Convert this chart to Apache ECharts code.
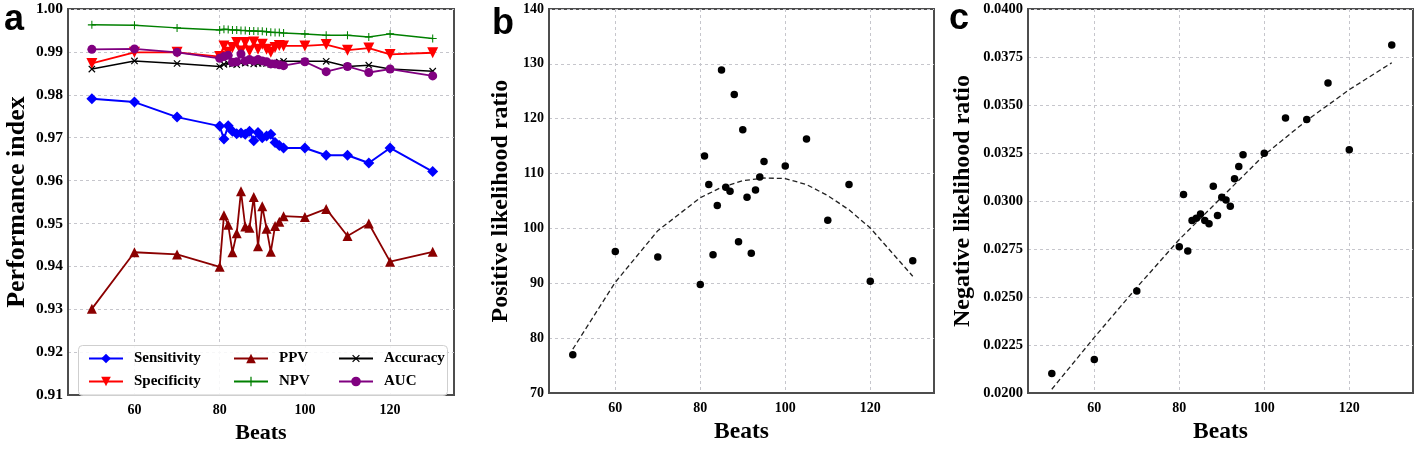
<!DOCTYPE html>
<html><head><meta charset="utf-8">
<script src="https://cdn.jsdelivr.net/npm/echarts@6/dist/echarts.min.js"></script>
<style>html,body{margin:0;padding:0;background:#fff}#c{width:1418px;height:449px}</style>
</head><body><div id="c"></div>
<script>
// ---- data ----
const beats = [50,60,70,80,81,82,83,84,85,86,87,88,89,90,91,92,93,94,95,100,105,110,115,120,130];
const sensitivity = [0.9791,0.9783,0.9748,0.9727,0.9697,0.9728,0.9715,0.9709,0.9711,0.9708,0.9715,0.9693,0.9712,0.9700,0.9704,0.9708,0.9689,0.9682,0.9676,0.9676,0.9659,0.9659,0.9641,0.9676,0.9621];
const specificity = [0.9873,0.9899,0.9899,0.9889,0.9914,0.9899,0.9910,0.9922,0.9902,0.9922,0.9902,0.9923,0.9906,0.9918,0.9906,0.9899,0.9910,0.9915,0.9914,0.9914,0.9917,0.9904,0.9909,0.9894,0.9898];
const ppv = [0.9301,0.9433,0.9428,0.9399,0.9519,0.9497,0.9433,0.9477,0.9575,0.9493,0.9490,0.9562,0.9447,0.9540,0.9488,0.9434,0.9494,0.9504,0.9517,0.9515,0.9534,0.9471,0.9500,0.9411,0.9434];
const npv = [0.9963,0.9962,0.9956,0.9951,0.9953,0.9952,0.9951,0.9951,0.9950,0.9950,0.9949,0.9949,0.9948,0.9948,0.9947,0.9946,0.9945,0.9945,0.9944,0.9942,0.9939,0.9939,0.9935,0.9942,0.9931];
const accuracy = [0.9860,0.9879,0.9873,0.9866,0.9871,0.9873,0.9872,0.9870,0.9875,0.9874,0.9876,0.9872,0.9873,0.9874,0.9873,0.9871,0.9874,0.9876,0.9878,0.9878,0.9878,0.9866,0.9869,0.9860,0.9855];
const auc = [0.9906,0.9907,0.9899,0.9885,0.9889,0.9892,0.9876,0.9877,0.9895,0.9879,0.9882,0.9879,0.9882,0.9879,0.9877,0.9872,0.9872,0.9870,0.9868,0.9877,0.9854,0.9866,0.9852,0.9860,0.9844];
const posLR = [77.0,95.8,94.8,89.8,113.2,108.0,95.2,104.2,128.9,107.5,106.8,124.4,97.6,118.0,105.7,95.5,107.0,109.4,112.2,111.4,116.3,101.5,108.0,90.4,94.1];
const negLR = [0.02102,0.02175,0.02531,0.02762,0.03034,0.02740,0.02899,0.02910,0.02933,0.02899,0.02882,0.03077,0.02925,0.03020,0.03005,0.02973,0.03116,0.03180,0.03241,0.03249,0.03432,0.03425,0.03615,0.03267,0.03813];
const fitBeats = [50,60,70,80,85,90,95,100,105,110,115,120,130];
const posFit = [78.0,90.2,99.6,105.6,107.5,108.7,109.2,109.1,108.0,106.0,103.4,100.1,91.3];
const negFit = [0.0202,0.0229,0.0255,0.0280,0.0291,0.0302,0.0313,0.0324,0.0333,0.0342,0.0350,0.0358,0.0372];
const xTicks = [60,80,100,120];
const panelLetters = ['a','b','c'];
const yNames = ['Performance index','Positive likelihood ratio','Negative likelihood ratio'];
const xName = 'Beats';

// ---- helpers ----
const pairs = (xs, ys) => xs.map((x, i) => [x, ys[i]]);
const SERIF = '"Liberation Serif","Times New Roman",serif';
const frame = '#4d4d4d';
const gridDash = {type: [3, 3], color: '#c6c6cc', width: 1};
const PLUS = 'path://M-1,-0.13L1,-0.13L1,0.13L-1,0.13Z M-0.13,-1L0.13,-1L0.13,1L-0.13,1Z';

const grids = [
  {left: 68, top: 9, width: 386, height: 393},
  {left: 549, top: 9, width: 385, height: 393},
  {left: 1028, top: 9, width: 385, height: 393}
].map(g => Object.assign(g, {show: true, borderColor: frame, borderWidth: 2, containLabel: false}));

function xAxisFor(i, labelSize, nameSize) {
  return {
    type: 'value', gridIndex: i, min: 44.4, max: 135,
    name: xName, nameLocation: 'middle', nameGap: 20,
    nameTextStyle: {fontFamily: SERIF, fontWeight: 'bold', fontSize: nameSize, color: '#000'},
    axisLine: {show: true, lineStyle: {color: frame, width: 2}},
    axisTick: {show: false, customValues: xTicks},
    axisLabel: {customValues: xTicks, fontFamily: SERIF, fontWeight: 'bold', fontSize: labelSize, color: '#000', margin: 8},
    splitLine: {show: true, lineStyle: gridDash}
  };
}
function yAxisFor(i, min, max, interval, dec, labelSize, nameSize, nameGap) {
  return {
    type: 'value', gridIndex: i, min, max, interval,
    name: yNames[i], nameLocation: 'middle', nameGap, nameRotate: 90,
    nameTextStyle: {fontFamily: SERIF, fontWeight: 'bold', fontSize: nameSize, color: '#000'},
    axisLine: {show: true, lineStyle: {color: frame, width: 2}},
    axisTick: {show: false},
    axisLabel: {formatter: v => v.toFixed(dec), fontFamily: SERIF, fontWeight: 'bold', fontSize: labelSize, color: '#000', margin: 5},
    splitLine: {show: true, lineStyle: gridDash}
  };
}

function lineSeries(name, ys, color, symbol, size, extra) {
  return Object.assign({
    name, type: 'line', xAxisIndex: 0, yAxisIndex: 0,
    data: pairs(beats, ys), symbol, symbolSize: size, showSymbol: true,
    lineStyle: {color, width: 1.8}, itemStyle: {color},
    emphasis: {disabled: true}, animation: false
  }, extra || {});
}

const legendText = {fontFamily: SERIF, fontWeight: 'bold', fontSize: 15, color: '#000', padding: [0, 0, 0, 6]};
const legendBase = {orient: 'vertical', top: 346, itemWidth: 34, itemHeight: 12, itemGap: 8, textStyle: legendText, z: 20, selectedMode: false};

const option = {
  animation: false,
  backgroundColor: '#fff',
  title: [
    {text: panelLetters[0], left: 4, top: 2},
    {text: panelLetters[1], left: 492, top: 6},
    {text: panelLetters[2], left: 949, top: 1}
  ].map(t => Object.assign(t, {textStyle: {fontFamily: '"Liberation Sans",Arial,sans-serif', fontWeight: 'bold', fontSize: 36, color: '#000'}, padding: 0})),
  grid: grids,
  xAxis: [xAxisFor(0, 14, 22), xAxisFor(1, 14, 23.5), xAxisFor(2, 14, 23.5)],
  yAxis: [
    yAxisFor(0, 0.91, 1.00, 0.01, 2, 15.5, 26, 38),
    yAxisFor(1, 70, 140, 10, 0, 14, 24, 36),
    yAxisFor(2, 0.02, 0.04, 0.0025, 4, 14.5, 24, 53)
  ],
  legend: [
    Object.assign({left: 83, data: ['Sensitivity', 'Specificity']}, legendBase),
    Object.assign({left: 228, data: ['PPV', 'NPV']}, legendBase),
    Object.assign({left: 333, data: ['Accuracy', 'AUC']}, legendBase)
  ],
  graphic: [{
    type: 'rect', z: 10, left: 78, top: 345,
    shape: {width: 369, height: 50, r: 4},
    style: {fill: 'rgba(255,255,255,0.85)', stroke: '#cfcfcf', lineWidth: 1}
  }],
  series: [
    lineSeries('Sensitivity', sensitivity, '#0000ff', 'diamond', 11, {lineStyle: {color: '#0000ff', width: 2}}),
    lineSeries('Specificity', specificity, '#ff0000', 'triangle', 11, {symbolRotate: 180}),
    lineSeries('PPV', ppv, '#8b0000', 'triangle', 10),
    lineSeries('NPV', npv, '#008000', PLUS, 8, {lineStyle: {color: '#008000', width: 1.5}}),
    lineSeries('Accuracy', accuracy, '#000000', PLUS, 9, {symbolRotate: 45, lineStyle: {color: '#000', width: 1.5}}),
    lineSeries('AUC', auc, '#800080', 'circle', 9),
    {
      name: 'posLR', type: 'scatter', xAxisIndex: 1, yAxisIndex: 1,
      data: pairs(beats, posLR), symbol: 'circle', symbolSize: 7.5,
      itemStyle: {color: '#000', opacity: 1}, z: 3
    },
    {
      name: 'posFit', type: 'line', xAxisIndex: 1, yAxisIndex: 1,
      data: pairs(fitBeats, posFit), symbol: 'none',
      lineStyle: {color: '#222', width: 1.3, type: [5, 3]}, z: 2
    },
    {
      name: 'negLR', type: 'scatter', xAxisIndex: 2, yAxisIndex: 2,
      data: pairs(beats, negLR), symbol: 'circle', symbolSize: 7.5,
      itemStyle: {color: '#000', opacity: 1}, z: 3
    },
    {
      name: 'negFit', type: 'line', xAxisIndex: 2, yAxisIndex: 2,
      data: pairs(fitBeats, negFit), symbol: 'none',
      lineStyle: {color: '#222', width: 1.3, type: [5, 3]}, z: 2
    }
  ]
};
const chart = echarts.init(document.getElementById('c'), null, {renderer: 'canvas'});
chart.setOption(option);
</script>
</body></html>
